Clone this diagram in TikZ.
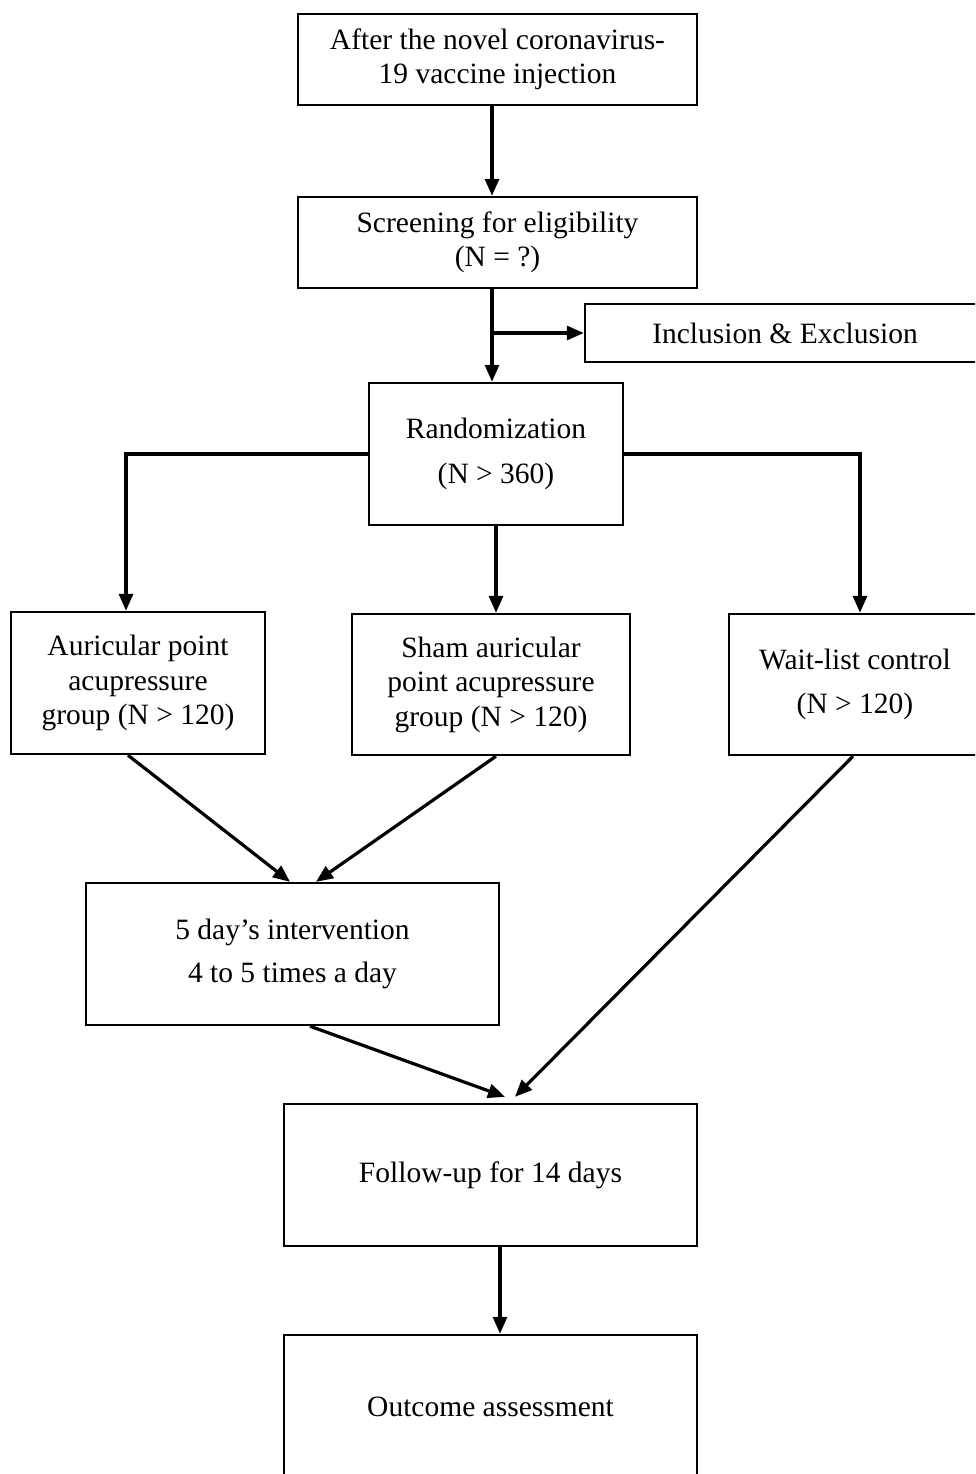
\documentclass[tikz,border=0pt]{standalone}
\usepackage{fontspec}
\setmainfont{Liberation Serif}
\usetikzlibrary{arrows.meta}
\begin{document}
\begin{tikzpicture}[x=1pt,y=-1pt,
  box/.style={draw=black,line width=2.4pt,rectangle,align=center,inner sep=0pt,
    font=\fontsize{29.5}{34.5}\selectfont},
  arr/.style={draw=black,line width=3.2pt,-{Triangle[length=17pt,width=14pt]}}]
\useasboundingbox (0,0) rectangle (975,1474);
\clip (0,0) rectangle (975,1474);
\fill[white] (0,0) rectangle (975,1474);
\node[box,minimum width=399pt,minimum height=91pt] (top) at (497.5,59.5) {After the novel coronavirus-\\19 vaccine injection};
\node[box,minimum width=399pt,minimum height=91pt] (screen) at (497.5,242.5) {Screening for eligibility\\(N = ?)};
\node[box,minimum width=400pt,minimum height=58pt] (incl) at (785,333) {Inclusion \& Exclusion};
\node[box,minimum width=254pt,minimum height=142pt] (rand) at (496,454) {Randomization\\[10pt](N > 360)};
\node[box,minimum width=254pt,minimum height=142pt] (aur) at (138,683) {Auricular point\\acupressure\\group (N > 120)};
\node[box,minimum width=278pt,minimum height=141pt] (sham) at (491,684.5) {Sham auricular\\point acupressure\\group (N > 120)};
\node[box,minimum width=252pt,minimum height=141pt] (wait) at (855,684.5) {Wait-list control\\[10pt](N > 120)};
\node[box,minimum width=413pt,minimum height=142pt] (five) at (292.5,954) {5 day’s intervention\\[9pt]4 to 5 times a day};
\node[box,minimum width=413pt,minimum height=142pt] (follow) at (490.5,1175) {Follow-up for 14 days};
\node[box,minimum width=413pt,minimum height=144pt] (outcome) at (490.5,1407) {Outcome assessment};
\coordinate (c1) at (492,0);
\draw[arr] (c1 |- top.south) -- (c1 |- screen.north);
\draw[arr] (c1 |- screen.south) -- (c1 |- rand.north);
\draw[arr] (c1 |- incl.west) -- (incl.west);
\draw[arr] (rand.west) -| ([xshift=-12pt]aur.north);
\draw[arr] (rand.south) -- (rand.south |- sham.north);
\draw[arr] (rand.east) -| ([xshift=5pt]wait.north);
\draw[arr] ([xshift=-10pt]aur.south) -- ([xshift=-2.5pt]five.north);
\draw[arr] ([xshift=5pt]sham.south) -- ([xshift=23.5pt]five.north);
\draw[arr] ([xshift=-2pt]wait.south) -- ([xshift=24.5pt,yshift=6pt]follow.north);
\draw[arr] ([xshift=17.5pt]five.south) -- ([xshift=14.5pt,yshift=6pt]follow.north);
\draw[arr] ([xshift=9.5pt]follow.south) -- ([xshift=9.5pt]outcome.north);
\end{tikzpicture}
\end{document}
